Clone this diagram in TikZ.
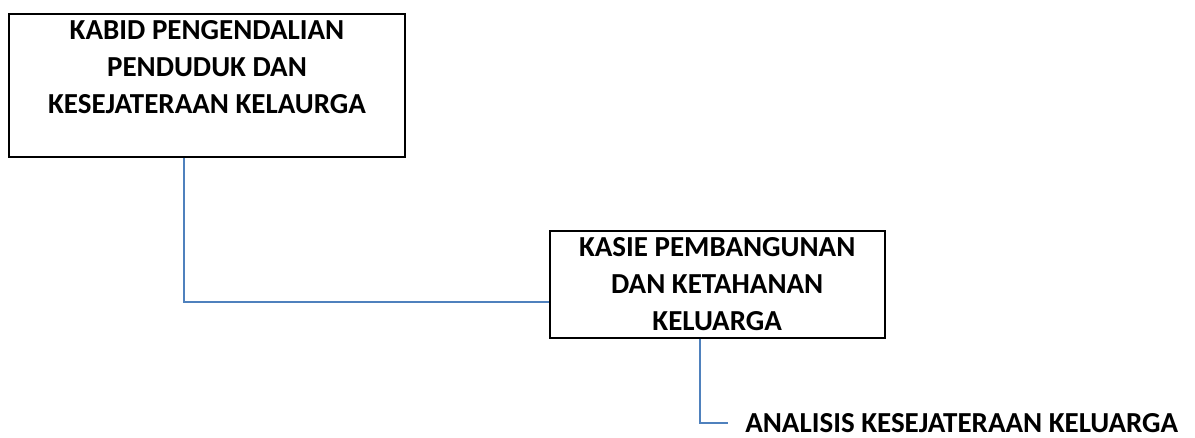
\documentclass[tikz,border=0pt]{standalone}
\usepackage{fontspec}
\setmainfont{Carlito}
\usetikzlibrary{positioning}

\begin{document}
\begin{tikzpicture}[x=0.75pt,y=0.75pt,node distance=2cm]
  \tikzstyle{jabatan}=[draw,line width=1.5pt,align=center,inner sep=0pt,
    font=\bfseries\fontsize{21.75}{27.75}\selectfont]
  \tikzstyle{garis}=[draw={rgb,255:red,79;green,129;blue,189},line width=1pt]

  \useasboundingbox (0,0) rectangle (1195,438);

  \node[jabatan,minimum width=297pt,minimum height=107.25pt] (kabid) at (207,352.5)
    {KABID PENGENDALIAN\\PENDUDUK DAN\\KESEJATERAAN KELAURGA\\ \mbox{}};
  \node[jabatan,minimum width=251.25pt,minimum height=80.25pt,
    below right=54pt and 107pt of kabid] (kasie)
    {KASIE PEMBANGUNAN\\DAN KETAHANAN\\KELUARGA};
  \node[anchor=west,inner xsep=12.75pt,inner ysep=0pt,
    font=\bfseries\fontsize{21.75}{27.75}\selectfont] (analisis) at (728,15)
    {ANALISIS KESEJATERAAN KELUARGA};

  \coordinate (siku1) at (184,136);
  \coordinate (siku2) at (analisis.west -| 700,0);

  \path[garis]
  (kabid.south -| siku1) -- (siku1) -- (siku1 -| kasie.west)
  (kasie.south -| siku2) -- (siku2) -- (analisis.west);
\end{tikzpicture}
\end{document}
